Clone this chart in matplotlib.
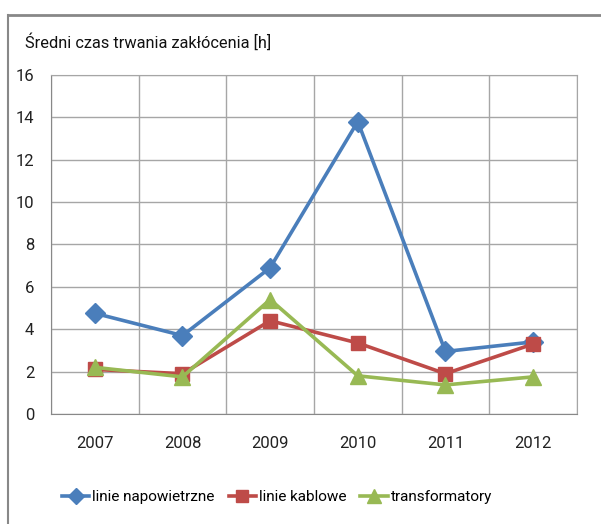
import matplotlib
matplotlib.use("Agg")
import matplotlib.pyplot as plt
from matplotlib.lines import Line2D

years = ["2007", "2008", "2009", "2010", "2011", "2012"]
linie_napowietrzne = [4.75, 3.7, 6.9, 13.8, 2.95, 3.4]
linie_kablowe = [2.1, 1.9, 4.4, 3.35, 1.9, 3.3]
transformatory = [2.2, 1.75, 5.4, 1.8, 1.37, 1.75]

plt.rcParams['font.family'] = ['Roboto', 'DejaVu Sans']

fig = plt.figure(figsize=(6.01, 5.24), dpi=100)
ax = fig.add_axes([0.0849, 0.21, 0.875, 0.647])

x = list(range(len(years)))
ax.plot(x, linie_napowietrzne, color="#4A7EBB", marker="D", markersize=10, linewidth=2.6,
        label="linie napowietrzne")
ax.plot(x, linie_kablowe, color="#BE4B48", marker="s", markersize=10.5, linewidth=2.6,
        label="linie kablowe")
ax.plot(x, transformatory, color="#98B954", marker="^", markersize=11.5, linewidth=2.6,
        label="transformatory")

ax.set_xlim(-0.5, len(years) - 0.5)
ax.set_ylim(0, 16)
ax.set_yticks(range(0, 17, 2))
ax.set_xticks(x)
ax.set_xticklabels(years)
ax.set_xticks([i - 0.5 for i in range(len(years) + 1)], minor=True)
ax.grid(True, which="minor", axis="x", color="#a6a6a6", linewidth=1)
ax.grid(True, which="major", axis="y", color="#a6a6a6", linewidth=1)
ax.set_axisbelow(True)
ax.tick_params(which="both", length=0, labelsize=12, colors="#222222")
ax.tick_params(axis="x", pad=16)
ax.tick_params(axis="y", pad=12)
for s in ax.spines.values():
    s.set_color("#a6a6a6")
ax.spines["left"].set_color("#888888")
ax.spines["bottom"].set_color("#888888")

fig.text(0.041, 0.92, "Średni czas trwania zakłócenia [h]", fontsize=11.8, color="#111111",
         va="center", ha="left")

ax.legend(loc="center", bbox_to_anchor=(0.43, -0.245), ncol=3, frameon=False, fontsize=11,
          handlelength=1.8, handletextpad=0.2, columnspacing=0.9, markerscale=0.85)

# outer chart border (top and left only visible)
fig.add_artist(Line2D([0.013, 1.0], [0.971, 0.971], color="#888888", linewidth=2))
fig.add_artist(Line2D([0.014, 0.014], [0.0, 0.971], color="#888888", linewidth=1.5))

fig.savefig("out.png", dpi=100)
